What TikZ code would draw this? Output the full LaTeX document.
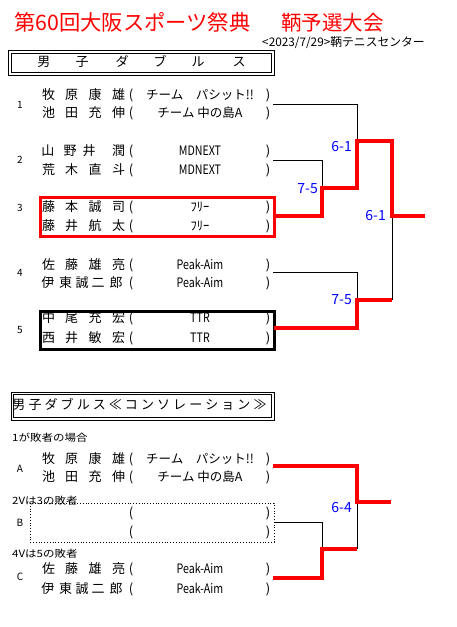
\documentclass[tikz,border=0pt]{standalone}
\usepackage{fontspec}
\setmainfont{Noto Sans CJK JP}
\newfontfamily\tmfont{Noto Sans CJK JP}[FakeStretch=0.82]
\newfontfamily\labfont{Noto Sans CJK JP}[FakeStretch=1.15]
\definecolor{rd}{RGB}{255,0,0}
\definecolor{bl}{RGB}{0,0,255}
\newcommand\prow[5]{%
  \foreach \xx/\ch [count=\k] in {#3} {\node[nm] (#1-\k) at (\xx,#2) {\ch};}
  \node[nm] (#1-l) at (131,#2) {(};
  \node[#4] (#1-t) at (200,#2) {#5};
  \node[nm] (#1-r) at (268,#2) {)};
}
\begin{document}
\begin{tikzpicture}[x=1pt,y=-1pt,
  nm/.style={anchor=base,yshift=-4.8pt,inner sep=0pt,font=\fontsize{13}{13}\selectfont},
  tm/.style={anchor=base,yshift=-4.6pt,inner sep=0pt,font=\fontsize{12.5}{13}\selectfont},
  tl/.style={anchor=base,yshift=-4.6pt,inner sep=0pt,font=\tmfont\fontsize{13}{13}\selectfont},
  num/.style={anchor=base,yshift=-3.6pt,inner sep=0pt,font=\fontsize{10}{10}\selectfont},
  lab/.style={anchor=base west,inner sep=0pt,font=\labfont\fontsize{10}{10}\selectfont},
  sc/.style={anchor=base east,yshift=-5.2pt,inner sep=0pt,text=bl,font=\fontsize{14}{14}\selectfont},
  thin/.style={draw=black,line width=1pt},
  win/.style={draw=rd,line width=3.5pt,line join=miter},
  box/.style={line width=3pt}]
\useasboundingbox (0,0) rectangle (456,627);
\fill[white] (0,0) rectangle (456,627);
% title
\node[anchor=base west,inner sep=0pt,text=rd,font=\fontsize{21.3}{21}\selectfont] (title1) at (14,30) {第60回大阪スポーツ祭典};
\node[anchor=base west,inner sep=0pt,text=rd,font=\fontsize{20.5}{21}\selectfont] (title2) at (281,30) {鞆予選大会};
\node[anchor=base west,inner sep=0pt,font=\fontsize{11.8}{12}\selectfont] (sub) at (262,46.5) {<2023/7/29>鞆テニスセンター};
% header 1
\draw[line width=1pt] (8,50) rectangle (274,75);
\draw[line width=1pt] (11,53) rectangle (271,72);
\foreach \xx/\ch [count=\k] in {44/男,82/子,122/ダ,160/ブ,198/ル,239/ス} {\node[nm] (h1-\k) at (\xx,62) {\ch};}
% entries
\node[num] (n1) at (20,105) {1};
\prow{a1}{95}{48.5/牧,71.5/原,95/康,118.5/雄}{tm}{チーム　パシット!!}
\prow{a2}{113}{48.5/池,71.5/田,95/充,118.5/伸}{tm}{チーム 中の島A}
\node[num] (n2) at (20,160) {2};
\prow{b1}{151}{48/山,70/野,89/井,118.5/潤}{tl}{MDNEXT}
\prow{b2}{170}{48.5/荒,71.5/木,95/直,118.5/斗}{tl}{MDNEXT}
\node[num] (n3) at (20,208) {3};
\prow{c1}{207}{48.5/藤,71.5/本,95/誠,118.5/司}{tm}{ﾌﾘｰ}
\prow{c2}{226}{48.5/藤,71.5/井,95/航,118.5/太}{tm}{ﾌﾘｰ}
\draw[rd,box] (40,197) rectangle (274,236);
\node[num] (n4) at (20,273) {4};
\prow{d1}{265}{48.5/佐,71.5/藤,95/雄,118.5/亮}{tl}{Peak-Aim}
\prow{d2}{283}{48/伊,65.5/東,82/誠,98/二,116/郎}{tl}{Peak-Aim}
\node[num] (n5) at (20,330) {5};
\prow{e1}{318}{48.5/中,71.5/尾,95/充,118.5/宏}{tl}{TTR}
\prow{e2}{338}{48.5/西,71.5/井,95/敏,118.5/宏}{tl}{TTR}
\draw[box] (40.5,311) rectangle (274,349);
% bracket coordinates
\coordinate (o1) at (273,104);
\coordinate (o2) at (273,160);
\coordinate (o3) at (274,216);
\coordinate (o4) at (273,272);
\coordinate (o5) at (274,328);
\coordinate (j1) at (357,141);
\coordinate (j2) at (322,188);
\coordinate (j3) at (392,216);
\coordinate (j4) at (392,300);
\coordinate (j5) at (357,300);
\coordinate (fin) at (425,216);
\draw[thin] (o1) -| (j1);
\draw[thin] (o2) -| (j2);
\draw[thin] (o4) -| (j5);
\draw[thin] (j3) -- (j4);
\draw[win] (o3) -| (j2) -| (j1) -| (j3) -- (fin);
\draw[win] (o5) -| (j5) -- (j4);
\node[sc] (s1) at (352,146.5) {6-1};
\node[sc] (s2) at (318,188) {7-5};
\node[sc] (s3) at (386,215.5) {6-1};
\node[sc] (s4) at (352,299.5) {7-5};
% header 2
\draw[line width=1pt] (11,392) rectangle (274,420);
\draw[line width=1pt] (13.5,394.5) rectangle (271.5,417.5);
\foreach \ch [count=\k] in {男,子,ダ,ブ,ル,ス,≪,コ,ン,ソ,レ,ー,シ,ョ,ン,≫} {\node[nm] (h2-\k) at ({19+(\k-1)*16.07},405) {\ch};}
% consolation
\node[lab] (l1) at (12,441) {1が敗者の場合};
\node[num] (nA) at (20,469) {A};
\prow{A1}{459}{48.5/牧,71.5/原,95/康,118.5/雄}{tm}{チーム　パシット!!}
\prow{A2}{477}{48.5/池,71.5/田,95/充,118.5/伸}{tm}{チーム 中の島A}
\node[lab] (l2) at (12,504) {2Vは3の敗者};
\node[num] (nB) at (20,523) {B};
\node[nm] (B1-l) at (131,513) {(};
\node[nm] (B1-r) at (268,513) {)};
\node[nm] (B2-l) at (131,532) {(};
\node[nm] (B2-r) at (268,532) {)};
\draw[dotted,line width=0.8pt] (30,503) rectangle (274,542);
\node[lab] (l3) at (12,557) {4Vは5の敗者};
\node[num] (nC) at (20,577) {C};
\prow{C1}{569}{48.5/佐,71.5/藤,95/雄,118.5/亮}{tl}{Peak-Aim}
\prow{C2}{589}{48/伊,65.5/東,82/誠,98/二,116/郎}{tl}{Peak-Aim}
\coordinate (ca) at (273,466);
\coordinate (cb) at (274,522);
\coordinate (cc) at (273,578);
\coordinate (cj1) at (357,502);
\coordinate (cj2) at (322,549);
\coordinate (cj3) at (357,549);
\coordinate (cf) at (391,502);
\draw[thin] (cb) -| (cj2);
\draw[thin] (cj3) -- (cj1);
\draw[win] (ca) -| (cj1) -- (cf);
\draw[win] (cc) -| (cj2) -- (cj3);
\node[sc] (s5) at (352,507.5) {6-4};
\end{tikzpicture}
\end{document}
